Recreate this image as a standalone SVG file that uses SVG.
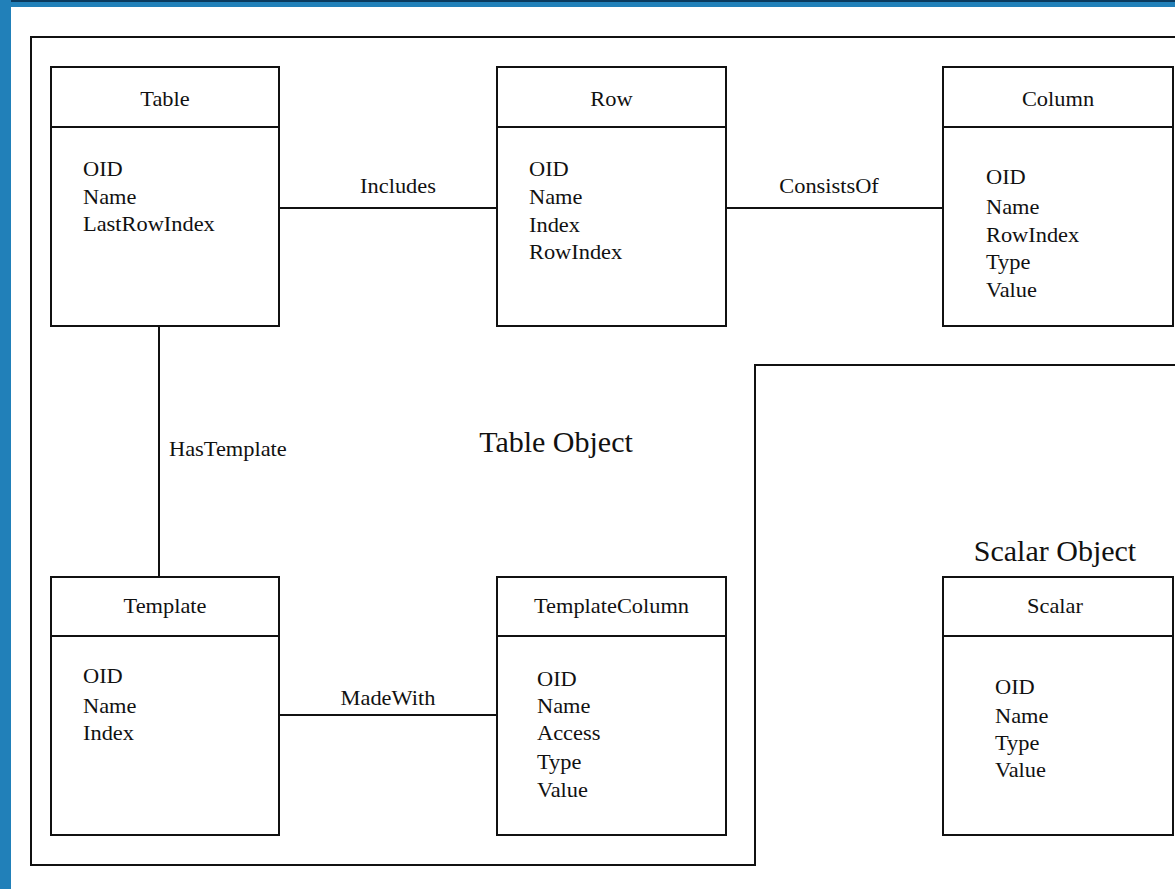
<svg xmlns="http://www.w3.org/2000/svg" width="1175" height="889" viewBox="0 0 1175 889">
<style>
.box{fill:#fff;stroke:#111;stroke-width:2}
.ln{fill:none;stroke:#111;stroke-width:2}
text{font-family:"Liberation Serif","Times New Roman",serif;fill:#111}
.t{font-size:20px}
.c{text-anchor:middle}
.big{font-size:30px;text-anchor:middle}
</style>
<rect x="0" y="0" width="1175" height="889" fill="#fff"/>
<rect x="0" y="0" width="1175" height="7" fill="#2180b9"/>
<rect x="0" y="0" width="1175" height="2" fill="#0b3a5e"/>
<rect x="0" y="0" width="11" height="889" fill="#2180b9"/>
<g id="frames">
<path class="ln" d="M1176,37 H31 V865 H755 V365 H1176"/>
<text class="big" x="556" y="452">Table Object</text>
<text class="big" x="1055" y="561">Scalar Object</text>
</g>
<g id="connectors">
<line class="ln" x1="279" y1="208" x2="497" y2="208"/>
<line class="ln" x1="726" y1="208" x2="943" y2="208"/>
<line class="ln" x1="159" y1="326" x2="159" y2="577"/>
<line class="ln" x1="279" y1="715" x2="497" y2="715"/>
<text class="t c" transform="translate(398,193) scale(1.12,1)">Includes</text>
<text class="t c" transform="translate(829,193) scale(1.12,1)">ConsistsOf</text>
<text class="t" transform="translate(169,456) scale(1.12,1)">HasTemplate</text>
<text class="t c" transform="translate(388,705) scale(1.12,1)">MadeWith</text>
</g>
<g id="table">
<rect class="box" x="51" y="67" width="228" height="259"/>
<line class="ln" x1="51" y1="127" x2="279" y2="127"/>
<text class="t c" transform="translate(165,106) scale(1.12,1)">Table</text>
<text class="t" transform="translate(83,176) scale(1.12,1)">OID</text>
<text class="t" transform="translate(83,204) scale(1.12,1)">Name</text>
<text class="t" transform="translate(83,231) scale(1.12,1)">LastRowIndex</text>
</g>
<g id="row">
<rect class="box" x="497" y="67" width="229" height="259"/>
<line class="ln" x1="497" y1="127" x2="726" y2="127"/>
<text class="t c" transform="translate(611.5,106) scale(1.12,1)">Row</text>
<text class="t" transform="translate(529,176) scale(1.12,1)">OID</text>
<text class="t" transform="translate(529,204) scale(1.12,1)">Name</text>
<text class="t" transform="translate(529,232) scale(1.12,1)">Index</text>
<text class="t" transform="translate(529,259) scale(1.12,1)">RowIndex</text>
</g>
<g id="column">
<rect class="box" x="943" y="67" width="230" height="259"/>
<line class="ln" x1="943" y1="127" x2="1173" y2="127"/>
<text class="t c" transform="translate(1058,106) scale(1.12,1)">Column</text>
<text class="t" transform="translate(986,184) scale(1.12,1)">OID</text>
<text class="t" transform="translate(986,214) scale(1.12,1)">Name</text>
<text class="t" transform="translate(986,242) scale(1.12,1)">RowIndex</text>
<text class="t" transform="translate(986,269) scale(1.12,1)">Type</text>
<text class="t" transform="translate(986,297) scale(1.12,1)">Value</text>
</g>
<g id="template">
<rect class="box" x="51" y="577" width="228" height="258"/>
<line class="ln" x1="51" y1="636" x2="279" y2="636"/>
<text class="t c" transform="translate(165,613) scale(1.12,1)">Template</text>
<text class="t" transform="translate(83,683) scale(1.12,1)">OID</text>
<text class="t" transform="translate(83,713) scale(1.12,1)">Name</text>
<text class="t" transform="translate(83,740) scale(1.12,1)">Index</text>
</g>
<g id="templatecolumn">
<rect class="box" x="497" y="577" width="229" height="258"/>
<line class="ln" x1="497" y1="636" x2="726" y2="636"/>
<text class="t c" transform="translate(611.5,613) scale(1.12,1)">TemplateColumn</text>
<text class="t" transform="translate(537,686) scale(1.12,1)">OID</text>
<text class="t" transform="translate(537,713) scale(1.12,1)">Name</text>
<text class="t" transform="translate(537,740) scale(1.12,1)">Access</text>
<text class="t" transform="translate(537,769) scale(1.12,1)">Type</text>
<text class="t" transform="translate(537,797) scale(1.12,1)">Value</text>
</g>
<g id="scalar">
<rect class="box" x="943" y="577" width="230" height="258"/>
<line class="ln" x1="943" y1="636" x2="1173" y2="636"/>
<text class="t c" transform="translate(1055,613) scale(1.12,1)">Scalar</text>
<text class="t" transform="translate(995,694) scale(1.12,1)">OID</text>
<text class="t" transform="translate(995,723) scale(1.12,1)">Name</text>
<text class="t" transform="translate(995,750) scale(1.12,1)">Type</text>
<text class="t" transform="translate(995,777) scale(1.12,1)">Value</text>
</g>
</svg>
